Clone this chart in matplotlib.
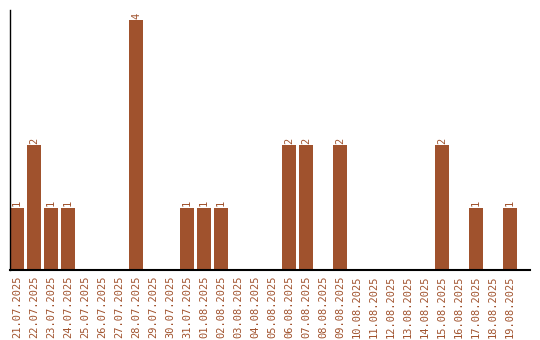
import matplotlib
matplotlib.use("Agg")
import matplotlib.pyplot as plt

dates = ["21.07.2025","22.07.2025","23.07.2025","24.07.2025","25.07.2025","26.07.2025",
         "27.07.2025","28.07.2025","29.07.2025","30.07.2025","31.07.2025","01.08.2025",
         "02.08.2025","03.08.2025","04.08.2025","05.08.2025","06.08.2025","07.08.2025",
         "08.08.2025","09.08.2025","10.08.2025","11.08.2025","12.08.2025","13.08.2025",
         "14.08.2025","15.08.2025","16.08.2025","17.08.2025","18.08.2025","19.08.2025"]
counts = [1,2,1,1,0,0,0,4,0,0,1,1,1,0,0,0,2,2,0,2,0,0,0,0,0,2,0,1,0,1]

color = "#A0522D"
W, H = 540, 340
fig = plt.figure(figsize=(W/100, H/100), dpi=100)
ax = fig.add_axes([10/W, (H-270)/H, 520/W, 260/H])

bw = 14/17
xs = list(range(len(dates)))
ax.bar(xs, counts, width=bw, align="edge", color=color)
for x, c in zip(xs, counts):
    if c > 0:
        ax.text(x + bw/2, c + 0.02, str(c), rotation=90, ha="center", va="bottom",
                color=color, fontsize=7.5, family="DejaVu Sans Mono")

ax.set_xlim(0, 520/17)
ax.set_ylim(0, 4*260/250)
ax.set_xticks([x + bw/2 for x in xs])
ax.set_xticklabels(dates, rotation=90, color=color, fontsize=7.5, family="DejaVu Sans Mono")
ax.tick_params(axis="x", length=0, pad=4)
ax.set_yticks([])
ax.spines["top"].set_visible(False)
ax.spines["right"].set_visible(False)
ax.spines["left"].set_color("black")
ax.spines["bottom"].set_color("black")
ax.spines["bottom"].set_linewidth(1.5)
ax.spines["left"].set_linewidth(1)

fig.savefig("out.png", dpi=100)
